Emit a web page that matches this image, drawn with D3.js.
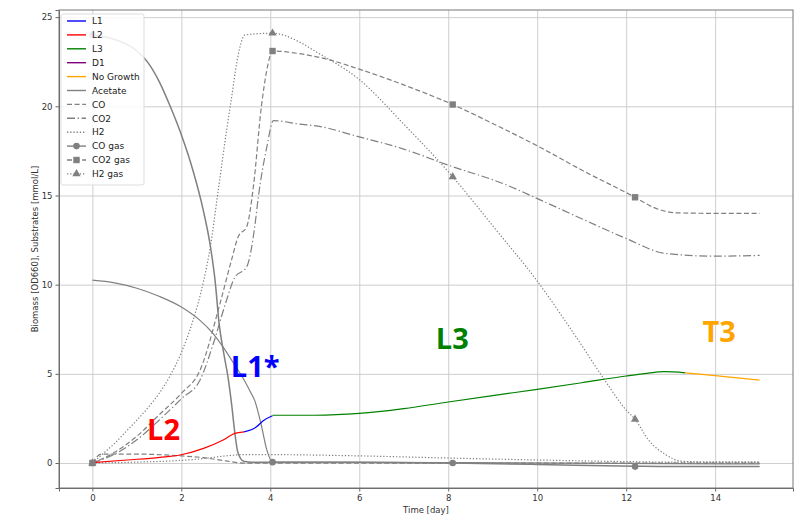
<!DOCTYPE html>
<html>
<head>
<meta charset="utf-8">
<script src="https://cdn.jsdelivr.net/npm/d3@7"></script>
<style>
  body { margin: 0; background: #fff; }
  text { font-family: "DejaVu Sans", sans-serif; }
  .grid line { stroke: #c8c8c8; stroke-width: 0.9; }
  .grid path { display: none; }
  .axis path, .axis line { stroke: #666; }
  .axis text { fill: #333; font-size: 8.5px; }
</style>
</head>
<body>
<div id="chart"></div>
<script>
// tick values
var xTicks = [0, 2, 4, 6, 8, 10, 12, 14];
var yTicks = [0, 5, 10, 15, 20, 25];

// gas phase series [day, value]
var coGas = [[0, 24.0], [0.5, 23.75], [1, 23.1], [1.25, 22.45], [1.5, 21.4], [1.75, 20.0],
  [2, 18.4], [2.25, 16.5], [2.5, 14.1], [2.65, 12.2], [2.76, 10.2], [2.85, 7.8], [2.95, 6.2],
  [3.05, 4.8], [3.13, 3.3], [3.2, 1.75], [3.27, 0.6], [3.4, 0.1], [3.6, 0.05], [4.05, 0.05],
  [6, 0.05], [8.1, 0.0], [10, -0.08], [12.2, -0.18], [13, -0.2], [15, -0.2]];
var co2Gas = [[0, 0], [0.5, 0.6], [1, 1.5], [1.5, 2.7], [2, 3.9], [2.42, 5.2], [2.87, 8.95],
  [3.13, 11.4], [3.28, 12.7], [3.47, 13.25], [3.62, 15.5], [3.8, 20.0], [3.92, 22.0], [4.05, 23.1],
  [4.66, 22.95], [5.34, 22.6], [5.98, 22.1], [7, 21.2], [8.1, 20.1], [9.15, 18.85], [9.99, 17.8],
  [11.02, 16.4], [12.2, 14.9], [12.6, 14.35], [13.11, 14.03], [14, 14.0], [15, 14.0]];
var h2Gas = [[0, 0], [0.25, 0.55], [0.5, 1.1], [0.75, 1.75], [1, 2.4], [1.25, 3.1], [1.5, 3.9],
  [1.75, 4.9], [2, 6.2], [2.25, 7.9], [2.5, 10.2], [2.65, 12.1], [2.83, 15.3], [3.02, 18.7],
  [3.13, 20.5], [3.25, 22.5], [3.32, 23.35], [3.43, 24.0], [4.05, 24.1], [4.66, 23.6], [5, 23.1],
  [6, 21.5], [7, 19.0], [8.1, 16.05], [9, 13.3], [10, 10.2], [11, 6.6], [11.54, 4.56], [12, 2.97],
  [12.2, 2.45], [12.5, 1.3], [12.9, 0.45], [13.25, 0.1], [14, 0.05], [15, 0.05]];

// liquid phase series
var acetate = [[0, 10.25], [0.5, 10.1], [1, 9.8], [1.5, 9.35], [2, 8.75], [2.42, 8.0], [2.7, 7.3],
  [2.94, 6.5], [3.2, 5.5], [3.39, 4.75], [3.55, 4.0], [3.65, 3.5], [3.8, 2.1], [3.92, 0.75],
  [4.05, 0.05], [8, 0.02], [15, -0.05]];
var co2Liq = [[0, 0], [0.5, 0.5], [1, 1.3], [1.5, 2.4], [2, 3.6], [2.42, 4.65], [2.72, 6.7],
  [3.0, 9.0], [3.2, 10.4], [3.47, 11.0], [3.65, 13.25], [3.73, 14.9], [3.92, 17.7], [4.07, 19.2],
  [4.66, 19.0], [5.04, 18.9], [5.98, 18.3], [7, 17.6], [8.0, 16.7], [9.3, 15.6], [9.99, 14.84],
  [11, 13.7], [11.99, 12.6], [12.89, 11.75], [13.97, 11.6], [15, 11.64]];
var coLiq = [[0, 0], [0.2, 0.5], [1, 0.5], [2, 0.4], [2.5, 0.3], [3, 0.12], [3.4, 0.0], [15, 0.0]];
var h2Liq = [[0, 0], [1, 0.05], [2, 0.15], [2.5, 0.25], [3, 0.4], [3.4, 0.47], [4, 0.47], [6, 0.4],
  [8, 0.28], [10, 0.17], [12, 0.08], [13, 0.05], [15, 0.05]];

// biomass phases
var l2 = [[0, 0.02], [0.78, 0.17], [1.52, 0.32], [1.97, 0.45], [2.5, 0.82], [2.94, 1.29], [3.2, 1.66], [3.41, 1.75]];
var l1 = [[3.41, 1.75], [3.69, 2.03], [3.84, 2.37], [4.05, 2.65]];
var l3 = [[4.05, 2.68], [5, 2.68], [6, 2.78], [7, 3.05], [8, 3.42], [9, 3.78], [10, 4.13], [11, 4.5],
  [12, 4.88], [12.5, 5.04], [12.85, 5.12], [13.33, 5.06]];
var noGrowth = [[13.33, 5.06], [14, 4.9], [15, 4.65]];

// measured gas samples
var sampleDays = [0, 4.05, 8.1, 12.2];
var coGasPts = [24.0, 0.05, 0.0, -0.2];
var co2GasPts = [0, 23.1, 20.1, 14.9];
var h2GasPts = [0, 24.1, 16.05, 2.45];

// phase labels
var phaseNames = ['L2', 'L1*', 'L3', 'T3'];
var phaseDays = [1.6, 3.66, 8.09, 14.09];
var phaseVals = [1.3, 4.82, 6.4, 6.8];

var legendLabels = ['L1', 'L2', 'L3', 'D1', 'No Growth', 'Acetate', 'CO', 'CO2', 'H2', 'CO gas', 'CO2 gas', 'H2 gas'];

var graph = { width: 797, height: 516, left: 59, right: 793, top: 10, bottom: 488 };

var x = d3.scaleLinear().domain([-0.75, 15.75]).range([graph.left, graph.right]);
var y = d3.scaleLinear().domain([-1.4, 25.4]).range([graph.bottom, graph.top]);

var dash = { solid: null, dashed: '5,2.6', dashdot: '8,2.6,1.4,2.6', dotted: '1.3,1.9' };

var svg = d3.select('#chart').append('svg')
  .attr('width', graph.width)
  .attr('height', graph.height);

// gridlines
svg.append('g')
  .attr('class', 'grid')
  .attr('transform', 'translate(0,' + graph.bottom + ')')
  .call(d3.axisBottom(x).tickValues(xTicks).tickSize(-(graph.bottom - graph.top)).tickFormat(''));

svg.append('g')
  .attr('class', 'grid')
  .attr('transform', 'translate(' + graph.left + ',0)')
  .call(d3.axisLeft(y).tickValues(yTicks).tickSize(-(graph.right - graph.left)).tickFormat(''));

var line = d3.line()
  .x(function(d) { return x(d[0]); })
  .y(function(d) { return y(d[1]); })
  .curve(d3.curveMonotoneX);

function drawLine(data, color, style, width) {
  svg.append('path')
    .datum(data)
    .attr('fill', 'none')
    .attr('stroke', color)
    .attr('stroke-width', width || 1.2)
    .attr('stroke-dasharray', dash[style])
    .attr('d', line);
}

function marker(g, shape, cx, cy, color) {
  if (shape === 'circle') {
    g.append('circle').attr('cx', cx).attr('cy', cy).attr('r', 3.3).attr('fill', color);
  } else if (shape === 'square') {
    g.append('rect').attr('x', cx - 3.2).attr('y', cy - 3.2).attr('width', 6.4).attr('height', 6.4).attr('fill', color);
  } else {
    g.append('path').attr('d', d3.symbol(d3.symbolTriangle, 30)()).attr('transform', 'translate(' + cx + ',' + cy + ')').attr('fill', color);
  }
}

drawLine(co2Liq, 'gray', 'dashdot');
drawLine(co2Gas, 'gray', 'dashed');
drawLine(h2Gas, 'gray', 'dotted');
drawLine(coLiq, 'gray', 'dashed');
drawLine(h2Liq, 'gray', 'dotted');
drawLine(acetate, 'gray', 'solid');
drawLine(coGas, 'gray', 'solid', 1.5);

drawLine(l2, 'red', 'solid');
drawLine(l1, 'blue', 'solid');
drawLine(l3, 'green', 'solid');
drawLine(noGrowth, 'orange', 'solid');

var markG = svg.append('g');
sampleDays.forEach(function(day, i) {
  marker(markG, 'circle', x(day), y(coGasPts[i]), 'gray');
  marker(markG, 'square', x(day), y(co2GasPts[i]), 'gray');
  marker(markG, 'triangle', x(day), y(h2GasPts[i]), 'gray');
});

// axes
svg.append('g')
  .attr('class', 'axis')
  .attr('transform', 'translate(0,' + graph.bottom + ')')
  .call(d3.axisBottom(x).tickValues(xTicks).tickSize(3.5).tickPadding(3));

svg.append('g')
  .attr('class', 'axis')
  .attr('transform', 'translate(' + graph.left + ',0)')
  .call(d3.axisLeft(y).tickValues(yTicks).tickSize(3.5).tickPadding(3));

svg.append('rect')
  .attr('x', graph.left).attr('y', graph.top)
  .attr('width', graph.right - graph.left).attr('height', graph.bottom - graph.top)
  .attr('fill', 'none').attr('stroke', '#777').attr('stroke-width', 1);

svg.append('text')
  .attr('x', (graph.left + graph.right) / 2).attr('y', 513)
  .attr('text-anchor', 'middle').attr('font-size', 8.5).attr('fill', '#333')
  .text('Time [day]');

svg.append('text')
  .attr('transform', 'translate(38,' + (graph.top + graph.bottom) / 2 + ') rotate(-90)')
  .attr('text-anchor', 'middle').attr('font-size', 8.5).attr('fill', '#333')
  .text('Biomass [OD660], Substrates [mmol/L]');

// phase labels
var phaseColors = ['red', 'blue', 'green', 'orange'];
phaseNames.forEach(function(name, i) {
  svg.append('text')
    .attr('x', x(phaseDays[i])).attr('y', y(phaseVals[i]))
    .attr('text-anchor', 'middle')
    .style('font-family', '"Open Sans", sans-serif')
    .attr('font-weight', 'bold').attr('font-size', 29)
    .attr('fill', phaseColors[i])
    .text(name);
});

// legend
var legendColors = ['blue', 'red', 'green', 'purple', 'orange', 'gray', 'gray', 'gray', 'gray', 'gray', 'gray', 'gray'];
var legendStyles = ['solid', 'solid', 'solid', 'solid', 'solid', 'solid', 'dashed', 'dashdot', 'dotted', 'solid', 'dashed', 'dotted'];
var legendMarks = [null, null, null, null, null, null, null, null, null, 'circle', 'square', 'triangle'];

var legend = svg.append('g').attr('transform', 'translate(61,14)');
legend.append('rect')
  .attr('width', 83).attr('height', 171).attr('rx', 2)
  .attr('fill', 'white').attr('fill-opacity', 0.85)
  .attr('stroke', '#ddd');

legendLabels.forEach(function(label, i) {
  var ly = 7 + i * 13.9;
  legend.append('line')
    .attr('x1', 6).attr('x2', 25).attr('y1', ly).attr('y2', ly)
    .attr('stroke', legendColors[i]).attr('stroke-width', 1.4)
    .attr('stroke-dasharray', dash[legendStyles[i]]);
  if (legendMarks[i]) marker(legend, legendMarks[i], 15.5, ly, 'gray');
  legend.append('text')
    .attr('x', 31).attr('y', ly + 3.2)
    .attr('font-size', 9).attr('fill', '#222')
    .text(label);
});
</script>
</body>
</html>
